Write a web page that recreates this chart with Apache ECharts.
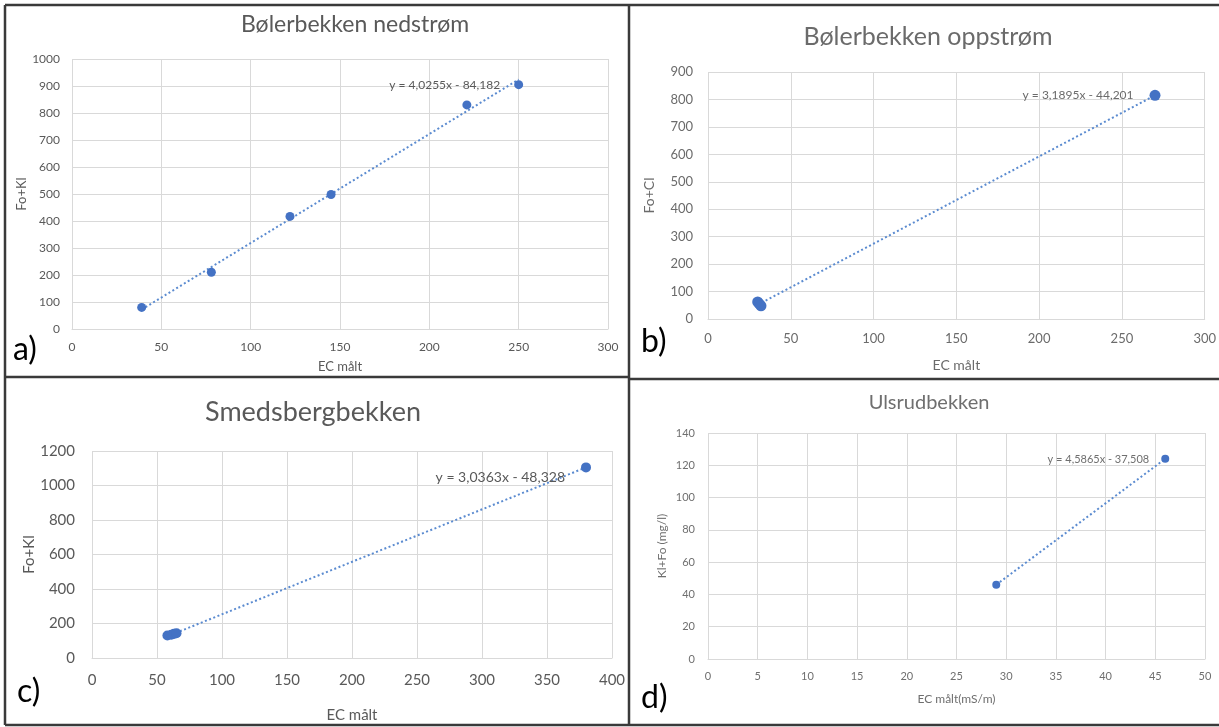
<!DOCTYPE html>
<html><head><meta charset="utf-8">
<script src="https://cdn.jsdelivr.net/npm/echarts@6/dist/echarts.min.js"></script>
<style>html,body{margin:0;padding:0;background:#fff}#c{width:1219px;height:727px}</style>
</head><body><div id="c"></div>
<script>
// ---------- data ----------
const titles = ['Bølerbekken nedstrøm', 'Bølerbekken oppstrøm', 'Smedsbergbekken', 'Ulsrudbekken'];
const panelTags = ['a)', 'b)', 'c)', 'd)'];
const xNames = ['EC målt', 'EC målt', 'EC målt', 'EC målt(mS/m)'];
const yNames = ['Fo+Kl', 'Fo+Cl', 'Fo+Kl', 'Kl+Fo (mg/l)'];
const equations = ['y = 4,0255x - 84,182', 'y = 3,1895x - 44,201', 'y = 3,0363x - 48,328', 'y = 4,5865x - 37,508'];

const nedX = [39, 78, 122, 145, 221, 250];
const nedY = [80, 210, 417, 498, 830, 905];
const oppX = [30, 31, 32, 270];
const oppY = [62, 55, 48, 815];
const smeX = [58, 61, 63, 65, 380];
const smeY = [130, 135, 140, 143, 1105];
const ulsX = [29, 46];
const ulsY = [46, 124];

const xMax = [300, 300, 400, 50];
const xStep = [50, 50, 50, 5];
const yMax = [1000, 900, 1200, 140];
const yStep = [100, 100, 200, 20];

// ---------- layout / style ----------
const FONT = 'Lato, "Open Sans", sans-serif';
const layout = [
  {grid:{left:72, top:59, width:536, height:270}, title:[355,25,23], tick:12, xm:12, ym:12, xg:31, yg:43, nameFs:13, eqFs:12, sym:9, eqOff:[-14,0], tag:[13,350], txt:'#595959'},
  {grid:{left:708, top:72, width:502, height:247}, title:[928,37,25], tick:13, xm:13, ym:15, xg:39, yg:52, nameFs:14, eqFs:12, sym:11, eqOff:[-16,0], tag:[641,342], txt:'#6b6b6b'},
  {grid:{left:92, top:451, width:520, height:207}, title:[313,412,27], tick:15, xm:15, ym:17, xg:50, yg:54, nameFs:15, eqFs:14, sym:10, eqOff:[-16,10], tag:[17,692], txt:'#595959'},
  {grid:{left:708, top:433, width:497, height:226}, title:[929,403,20], tick:11, xm:12, ym:13, xg:34, yg:40, nameFs:12, eqFs:11, sym:8, eqOff:[-12,1], tag:[641,698], txt:'#6f6f6f'}
];
const GRID = '#d9d9d9';
const MARK = '#4472C4';
const TREND = '#5B8BD0';

function fit(xs, ys) {
  const n = xs.length;
  const mx = xs.reduce((a, b) => a + b, 0) / n;
  const my = ys.reduce((a, b) => a + b, 0) / n;
  let sxy = 0, sxx = 0;
  for (let i = 0; i < n; i++) { sxy += (xs[i] - mx) * (ys[i] - my); sxx += (xs[i] - mx) ** 2; }
  const k = sxy / sxx, b = my - k * mx;
  const x0 = Math.min(...xs), x1 = Math.max(...xs);
  return [[x0, k * x0 + b], [x1, k * x1 + b]];
}

const plain = v => String(v);
const sets = [[nedX, nedY], [oppX, oppY], [smeX, smeY], [ulsX, ulsY]];
const grids = [], xAxes = [], yAxes = [], series = [], graphics = [];

sets.forEach(([xs, ys], i) => {
  const L = layout[i];
  const TXT = L.txt;
  grids.push(Object.assign({containLabel: false}, L.grid));
  xAxes.push({
    type: 'value', gridIndex: i, min: 0, max: xMax[i], interval: xStep[i],
    name: xNames[i], nameLocation: 'middle', nameGap: L.xg,
    nameTextStyle: {color: TXT, fontSize: L.nameFs, fontFamily: FONT},
    axisLine: {show: true, lineStyle: {color: GRID}}, axisTick: {show: false},
    axisLabel: {color: TXT, fontSize: L.tick, fontFamily: FONT, margin: L.xm, formatter: plain},
    splitLine: {show: true, lineStyle: {color: GRID}}
  });
  yAxes.push({
    type: 'value', gridIndex: i, min: 0, max: yMax[i], interval: yStep[i],
    name: yNames[i], nameLocation: 'middle', nameGap: L.yg,
    nameTextStyle: {color: TXT, fontSize: L.nameFs, fontFamily: FONT},
    axisLine: {show: false}, axisTick: {show: false},
    axisLabel: {color: TXT, fontSize: L.tick, fontFamily: FONT, margin: L.ym, formatter: plain},
    splitLine: {show: true, lineStyle: {color: GRID}}
  });
  series.push({
    type: 'line', xAxisIndex: i, yAxisIndex: i, data: fit(xs, ys),
    symbol: 'none', silent: true, z: 2,
    lineStyle: {color: TREND, width: 2, type: [2, 2.5]}
  });
  const last = xs.length - 1;
  series.push({
    type: 'scatter', xAxisIndex: i, yAxisIndex: i, symbolSize: L.sym, z: 3,
    itemStyle: {color: MARK, opacity: 1},
    data: xs.map((x, j) => j === last ? {
      value: [x, ys[j]],
      label: {show: true, position: 'left', distance: 0, offset: L.eqOff, formatter: equations[i],
              color: TXT, fontSize: L.eqFs, fontFamily: FONT}
    } : [x, ys[j]])
  });
  graphics.push({type: 'text', style: {
    text: titles[i], x: L.title[0], y: L.title[1], fill: TXT, font: L.title[2] + 'px ' + FONT,
    textAlign: 'center', textVerticalAlign: 'middle'}});
  graphics.push({type: 'text', style: {
    text: panelTags[i], x: L.tag[0], y: L.tag[1], fill: '#000', font: '32px ' + FONT,
    textAlign: 'left', textVerticalAlign: 'middle'}});
});

// frame lines
const FR = {stroke: '#3a3a3a', lineWidth: 2.5};
[[5, 5, 1219, 5], [5, 5, 5, 725], [5, 725, 1219, 725], [629, 5, 629, 725], [5, 377, 629, 377], [629, 379, 1219, 379]]
  .forEach(s => graphics.push({type: 'line', shape: {x1: s[0], y1: s[1], x2: s[2], y2: s[3]}, style: FR, z: 10}));

const chart = echarts.init(document.getElementById('c'), null, {renderer: 'canvas'});
chart.setOption({
  animation: false,
  backgroundColor: '#fff',
  grid: grids, xAxis: xAxes, yAxis: yAxes, series: series,
  graphic: {elements: graphics}
});
</script></body></html>
